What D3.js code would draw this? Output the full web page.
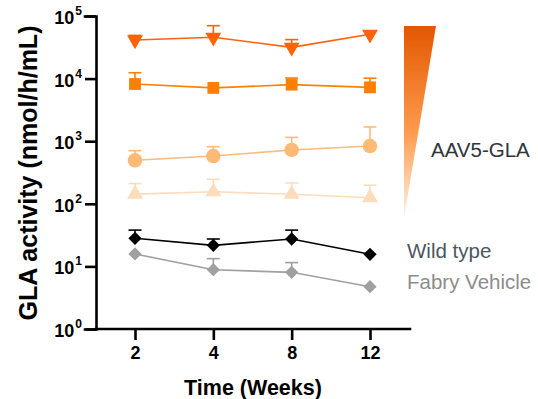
<!DOCTYPE html>
<html>
<head>
<meta charset="utf-8">
<script src="https://cdn.jsdelivr.net/npm/d3@7"></script>
<style>
  body { margin: 0; background: #fff; }
  svg { display: block; font-family: Arial, "Liberation Sans", sans-serif; }
</style>
</head>
<body>
<div id="chart"></div>
<script>
// weeks on the x axis
const weeks = ["2", "4", "8", "12"];
const yTicks = [1, 10, 100, 1000, 10000, 100000];

// group means (nmol/h/mL) and upward error (SEM)
const aavDose4 = [41400, 45700, 31600, 51000];
const aavDose4Err = [7600, 24300, 10400, 0];
const aavDose3 = [8200, 7100, 8000, 7250];
const aavDose3Err = [4200, 0, 2200, 2900];
const aavDose2 = [495, 580, 724, 838];
const aavDose2Err = [210, 237, 426, 852];
const aavDose1 = [143, 156, 142, 125];
const aavDose1Err = [67, 90, 73, 73];
const wildType = [28.1, 21.7, 27.4, 15.6];
const wildTypeErr = [9.9, 5.7, 10.6, 0];
const fabryVehicle = [15.8, 8.85, 8.04, 4.74];
const fabryVehicleErr = [0, 4.45, 3.46, 0];

const legendLabels = ["AAV5-GLA", "Wild type", "Fabry Vehicle"];

function init() {
  const W = 538, H = 399;
  const svg = d3.select("#chart").append("svg")
    .attr("width", W).attr("height", H);

  const x = d3.scalePoint().domain(weeks).range([135, 370]);
  const y = d3.scaleLog().domain([1, 100000]).range([329, 16]);

  const series = [
    { vals: fabryVehicle, err: fabryVehicleErr, color: "#a0a0a0", shape: "diamond" },
    { vals: wildType, err: wildTypeErr, color: "#000000", shape: "diamond" },
    { vals: aavDose1, err: aavDose1Err, color: "#fddcbc", shape: "triUp" },
    { vals: aavDose2, err: aavDose2Err, color: "#ffbb76", shape: "circle" },
    { vals: aavDose3, err: aavDose3Err, color: "#ff8000", shape: "square" },
    { vals: aavDose4, err: aavDose4Err, color: "#ff6208", shape: "triDown" }
  ];

  const symbols = {
    diamond: { type: d3.symbolSquare, size: 88, rot: 45 },
    square: { type: d3.symbolSquare, size: 140, rot: 0 },
    circle: { type: d3.symbolCircle, size: 165, rot: 0 },
    triUp: { type: d3.symbolTriangle, size: 110, rot: 0 },
    triDown: { type: d3.symbolTriangle, size: 110, rot: 180 }
  };

  // axes
  const yAxis = svg.append("g")
    .attr("transform", "translate(96,0)")
    .call(d3.axisLeft(y).tickValues(yTicks).tickSize(11).tickPadding(3).tickFormat(""));
  yAxis.selectAll(".tick text").each(function(d) {
    const t = d3.select(this)
      .attr("font-size", 18).attr("font-weight", "bold").attr("fill", "#000")
      .attr("dy", "0.42em");
    t.append("tspan").text("10");
    t.append("tspan").text(Math.round(Math.log10(d)))
      .attr("font-size", 12).attr("dy", "-0.75em").attr("dx", "1");
  });

  const xAxis = svg.append("g")
    .attr("transform", "translate(0,329)")
    .call(d3.axisBottom(x).tickSize(11).tickPadding(6).tickSizeOuter(0));
  xAxis.select(".domain").attr("d", "M96,0H410");
  xAxis.selectAll(".tick text")
    .attr("font-size", 18).attr("font-weight", "bold").attr("fill", "#000");

  svg.selectAll(".domain, .tick line").attr("stroke", "#000").attr("stroke-width", 2.6);
  svg.selectAll(".domain").attr("stroke-linecap", "square");

  // axis titles
  svg.append("text")
    .attr("transform", "translate(37,173) rotate(-90)")
    .attr("text-anchor", "middle")
    .attr("font-size", 25).attr("font-weight", "bold")
    .text("GLA activity (nmol/h/mL)");
  svg.append("text")
    .attr("x", 253).attr("y", 395)
    .attr("text-anchor", "middle")
    .attr("font-size", 21.5).attr("font-weight", "bold")
    .text("Time (Weeks)");

  const line = d3.line()
    .x((d, i) => x(weeks[i]))
    .y(d => y(d));

  series.forEach(s => {
    const g = svg.append("g");
    g.append("path")
      .attr("d", line(s.vals))
      .attr("fill", "none").attr("stroke", s.color).attr("stroke-width", 1.6);

    const eb = g.selectAll(".eb")
      .data(s.vals.map((v, i) => ({ v, e: s.err[i], w: weeks[i] })).filter(d => d.e > 0))
      .enter().append("g");
    eb.append("line")
      .attr("x1", d => x(d.w)).attr("x2", d => x(d.w))
      .attr("y1", d => y(d.v)).attr("y2", d => y(d.v + d.e))
      .attr("stroke", s.color).attr("stroke-width", 1.6);
    eb.append("line")
      .attr("x1", d => x(d.w) - 6.5).attr("x2", d => x(d.w) + 6.5)
      .attr("y1", d => y(d.v + d.e)).attr("y2", d => y(d.v + d.e))
      .attr("stroke", s.color).attr("stroke-width", 1.6);

    const sym = symbols[s.shape];
    g.selectAll(".pt")
      .data(s.vals)
      .enter().append("path")
      .attr("d", d3.symbol().type(sym.type).size(sym.size))
      .attr("transform", (d, i) => "translate(" + x(weeks[i]) + "," + y(d) + ") rotate(" + sym.rot + ")")
      .attr("fill", s.color);
  });

  // legend: gradient wedge for the AAV5-GLA dose groups
  const grad = svg.append("defs").append("linearGradient")
    .attr("id", "wedge").attr("x1", 0).attr("y1", 0).attr("x2", 0).attr("y2", 1);
  grad.append("stop").attr("offset", "0%").attr("stop-color", "#e25800");
  grad.append("stop").attr("offset", "55%").attr("stop-color", "#ff9a4e");
  grad.append("stop").attr("offset", "100%").attr("stop-color", "#fff3e6");
  svg.append("path")
    .attr("d", "M404,26L436,26L404,218Z")
    .attr("fill", "url(#wedge)");

  const legendY = [157, 258, 289];
  const legendX = [431, 407, 407];
  const legendColor = ["#30353b", "#4c5660", "#8c8c8c"];
  svg.selectAll(".leg")
    .data(legendLabels)
    .enter().append("text")
    .attr("x", (d, i) => legendX[i]).attr("y", (d, i) => legendY[i])
    .attr("font-size", 20.5)
    .attr("fill", (d, i) => legendColor[i])
    .text(d => d);
}

window.onload = init;
</script>
</body>
</html>
